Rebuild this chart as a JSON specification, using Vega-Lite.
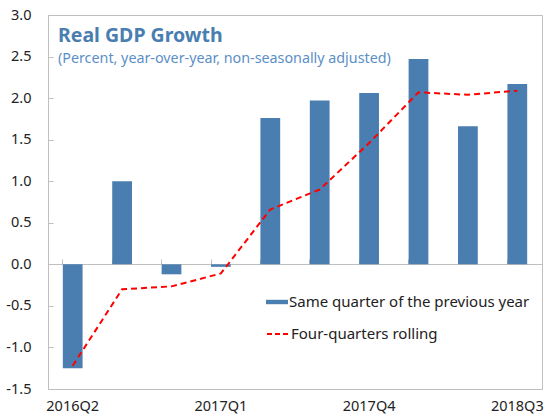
{
  "$schema": "https://vega.github.io/schema/vega-lite/v6.json",
  "width": 494,
  "height": 374,
  "autosize": {"type": "none"},
  "padding": {"left": 48, "top": 15, "right": 5, "bottom": 28},
  "config": {
    "view": {"stroke": "#bfbfbf", "strokeWidth": 1},
    "font": "Noto Sans",
    "axis": {"grid": false}
  },
  "title": {
    "text": "Real GDP Growth",
    "subtitle": "(Percent, year-over-year, non-seasonally adjusted)",
    "anchor": "start",
    "frame": "group",
    "orient": "top",
    "offset": 0,
    "dx": 10,
    "dy": 60,
    "fontSize": 19.5,
    "fontWeight": "bold",
    "color": "#4a7eb0",
    "subtitleFontSize": 14.3,
    "subtitleColor": "#5b8fc7",
    "subtitlePadding": 5
  },
  "data": {
    "values": [
      {"q": "2016Q2", "bar": -1.25, "line": -1.22},
      {"q": "2016Q3", "bar": 1.0, "line": -0.3},
      {"q": "2016Q4", "bar": -0.12, "line": -0.265},
      {"q": "2017Q1", "bar": -0.03, "line": -0.11},
      {"q": "2017Q2", "bar": 1.76, "line": 0.66},
      {"q": "2017Q3", "bar": 1.97, "line": 0.9},
      {"q": "2017Q4", "bar": 2.06, "line": 1.46},
      {"q": "2018Q1", "bar": 2.47, "line": 2.07},
      {"q": "2018Q2", "bar": 1.66, "line": 2.04},
      {"q": "2018Q3", "bar": 2.17, "line": 2.09}
    ]
  },
  "layer": [
    {
      "mark": {"type": "bar"},
      "encoding": {
        "x": {
          "field": "q",
          "type": "ordinal",
          "scale": {"paddingInner": 0.6, "paddingOuter": 0.3},
          "axis": {
            "orient": "bottom",
            "title": null,
            "domain": false,
            "ticks": false,
            "values": ["2016Q2", "2017Q1", "2017Q4", "2018Q3"],
            "labelAngle": 0,
            "labelFontSize": 14.5,
            "labelColor": "#222222",
            "labelPadding": 10
          }
        },
        "y": {
          "field": "bar",
          "type": "quantitative",
          "scale": {"domain": [-1.5, 3], "nice": false, "zero": false},
          "axis": {
            "title": null,
            "values": [-1.5, -1, -0.5, 0, 0.5, 1, 1.5, 2, 2.5, 3],
            "labelExpr": "replace(format(datum.value, '.1f'), '\u2212', '-')",
            "labelFontSize": 14.5,
            "labelColor": "#222222",
            "domainColor": "#bfbfbf",
            "tickColor": "#bfbfbf",
            "tickSize": -5,
            "labelPadding": 22
          }
        },
        "fill": {
          "datum": "Same quarter of the previous year",
          "scale": {"range": ["#4a7eb0"]},
          "legend": {
            "orient": "none",
            "legendX": 218,
            "legendY": 276,
            "title": null,
            "symbolType": "M-1,-0.2H1V0.2H-1Z",
            "symbolSize": 484,
            "symbolStrokeWidth": 0,
            "labelFontSize": 15,
            "labelColor": "#222222",
            "labelOffset": 1,
            "labelLimit": 0,
            "padding": 0
          }
        }
      }
    },
    {
      "mark": {"type": "line", "strokeDash": [6, 4], "strokeWidth": 2},
      "encoding": {
        "x": {
          "field": "q",
          "type": "ordinal",
          "axis": {
            "orient": "top",
            "offset": -249,
            "title": null,
            "labels": false,
            "bandPosition": 0,
            "domainColor": "#bfbfbf",
            "tickColor": "#bfbfbf",
            "tickSize": 5
          }
        },
        "y": {"field": "line", "type": "quantitative"},
        "stroke": {
          "datum": "Four-quarters rolling",
          "scale": {"range": ["#ff0000"]},
          "legend": {
            "orient": "none",
            "legendX": 218,
            "legendY": 307,
            "title": null,
            "symbolType": "stroke",
            "symbolSize": 484,
            "symbolStrokeWidth": 2,
            "symbolDash": [5, 3],
            "labelFontSize": 15,
            "labelColor": "#222222",
            "labelOffset": 1,
            "labelLimit": 0,
            "padding": 0
          }
        }
      }
    }
  ],
  "resolve": {"axis": {"x": "independent"}}
}
